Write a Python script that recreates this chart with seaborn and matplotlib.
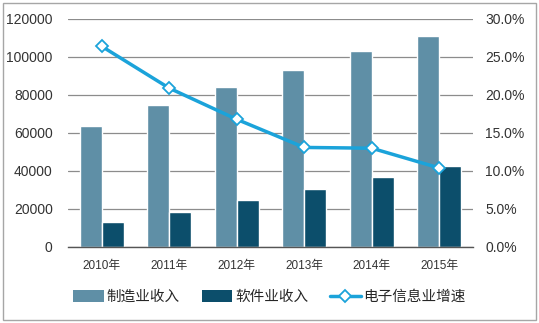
import matplotlib
matplotlib.use("Agg")
import matplotlib.pyplot as plt
import seaborn as sns
import pandas as pd
from matplotlib.patches import Rectangle
from matplotlib.lines import Line2D
from matplotlib.patches import Patch

years = ["2010年", "2011年", "2012年", "2013年", "2014年", "2015年"]
manufacturing = [63500, 74600, 84400, 93200, 102900, 111000]
software = [13000, 18600, 24600, 30400, 36700, 42600]
growth = [26.4, 20.9, 16.8, 13.1, 13.0, 10.4]

c_manu = "#5F8FA6"
c_soft = "#0C4E6B"
c_line = "#1BA3DA"

sns.set_theme(style="white")
plt.rcParams['font.family'] = ['Liberation Sans', 'Noto Sans CJK SC', 'DejaVu Sans']

df = pd.DataFrame({
    "year": years * 2,
    "value": manufacturing + software,
    "series": ["制造业收入"] * 6 + ["软件业收入"] * 6,
})

fig = plt.figure(figsize=(5.39, 3.23), dpi=100)
ax = fig.add_axes([68/539, 1 - 247/323, (473-68)/539, (247-19)/323])

sns.barplot(data=df, x="year", y="value", hue="series", palette=[c_manu, c_soft],
            width=0.65, ax=ax, legend=False, saturation=1)
ax.set_xlim(-0.5, 5.5)
ax.set_ylim(0, 120000)
ax.set_yticks(range(0, 120001, 20000))
ax.yaxis.grid(True, color="#8C8C8C", linewidth=0.9)
ax.set_axisbelow(True)
for s in ["top", "right", "left"]:
    ax.spines[s].set_visible(False)
ax.spines["bottom"].set_color("#555555")
ax.spines["bottom"].set_linewidth(1.0)
ax.set_xlabel("")
ax.set_ylabel("")
ax.tick_params(axis="y", length=0, labelsize=10, colors="#333333", pad=11)
ax.tick_params(axis="x", length=0, labelsize=8.5, colors="#333333", pad=9)
for lbl in ax.get_xticklabels():
    lbl.set_family(['Liberation Sans', 'Noto Sans CJK SC'])

ax2 = ax.twinx()
sns.lineplot(x=list(range(6)), y=growth, ax=ax2, color=c_line, linewidth=2.5,
             marker="D", markersize=6, markerfacecolor="white",
             markeredgecolor=c_line, markeredgewidth=1.3)
ax2.set_ylim(0, 30)
ax2.set_yticks([0, 5, 10, 15, 20, 25, 30])
ax2.set_yticklabels([f"{v:.1f}%" for v in [0, 5, 10, 15, 20, 25, 30]])
ax2.tick_params(axis="y", length=0, labelsize=10, colors="#333333", pad=9)
for s in ["top", "right", "left", "bottom"]:
    ax2.spines[s].set_visible(False)
ax2.set_ylabel("")

handles = [
    Patch(facecolor=c_manu, edgecolor="none"),
    Patch(facecolor=c_soft, edgecolor="none"),
    Line2D([0], [0], color=c_line, linewidth=2.5, marker="D", markersize=6,
           markerfacecolor="white", markeredgecolor=c_line, markeredgewidth=1.3),
]
labels = ["制造业收入", "软件业收入", "电子信息业增速"]
fig.legend(handles, labels, loc="center", bbox_to_anchor=(0.5, 1 - 297/323),
           ncol=3, frameon=False, handlelength=2.1, handleheight=0.8,
           columnspacing=1.5, handletextpad=0.2,
           prop={'family': ['Noto Sans CJK SC'], 'size': 10.5})

fig.patches.append(Rectangle((3/539, 3/323), 533/539, 317/323, transform=fig.transFigure,
                             fill=False, edgecolor="#A6A6A6", linewidth=1.0))

fig.savefig("out.png", dpi=100)
